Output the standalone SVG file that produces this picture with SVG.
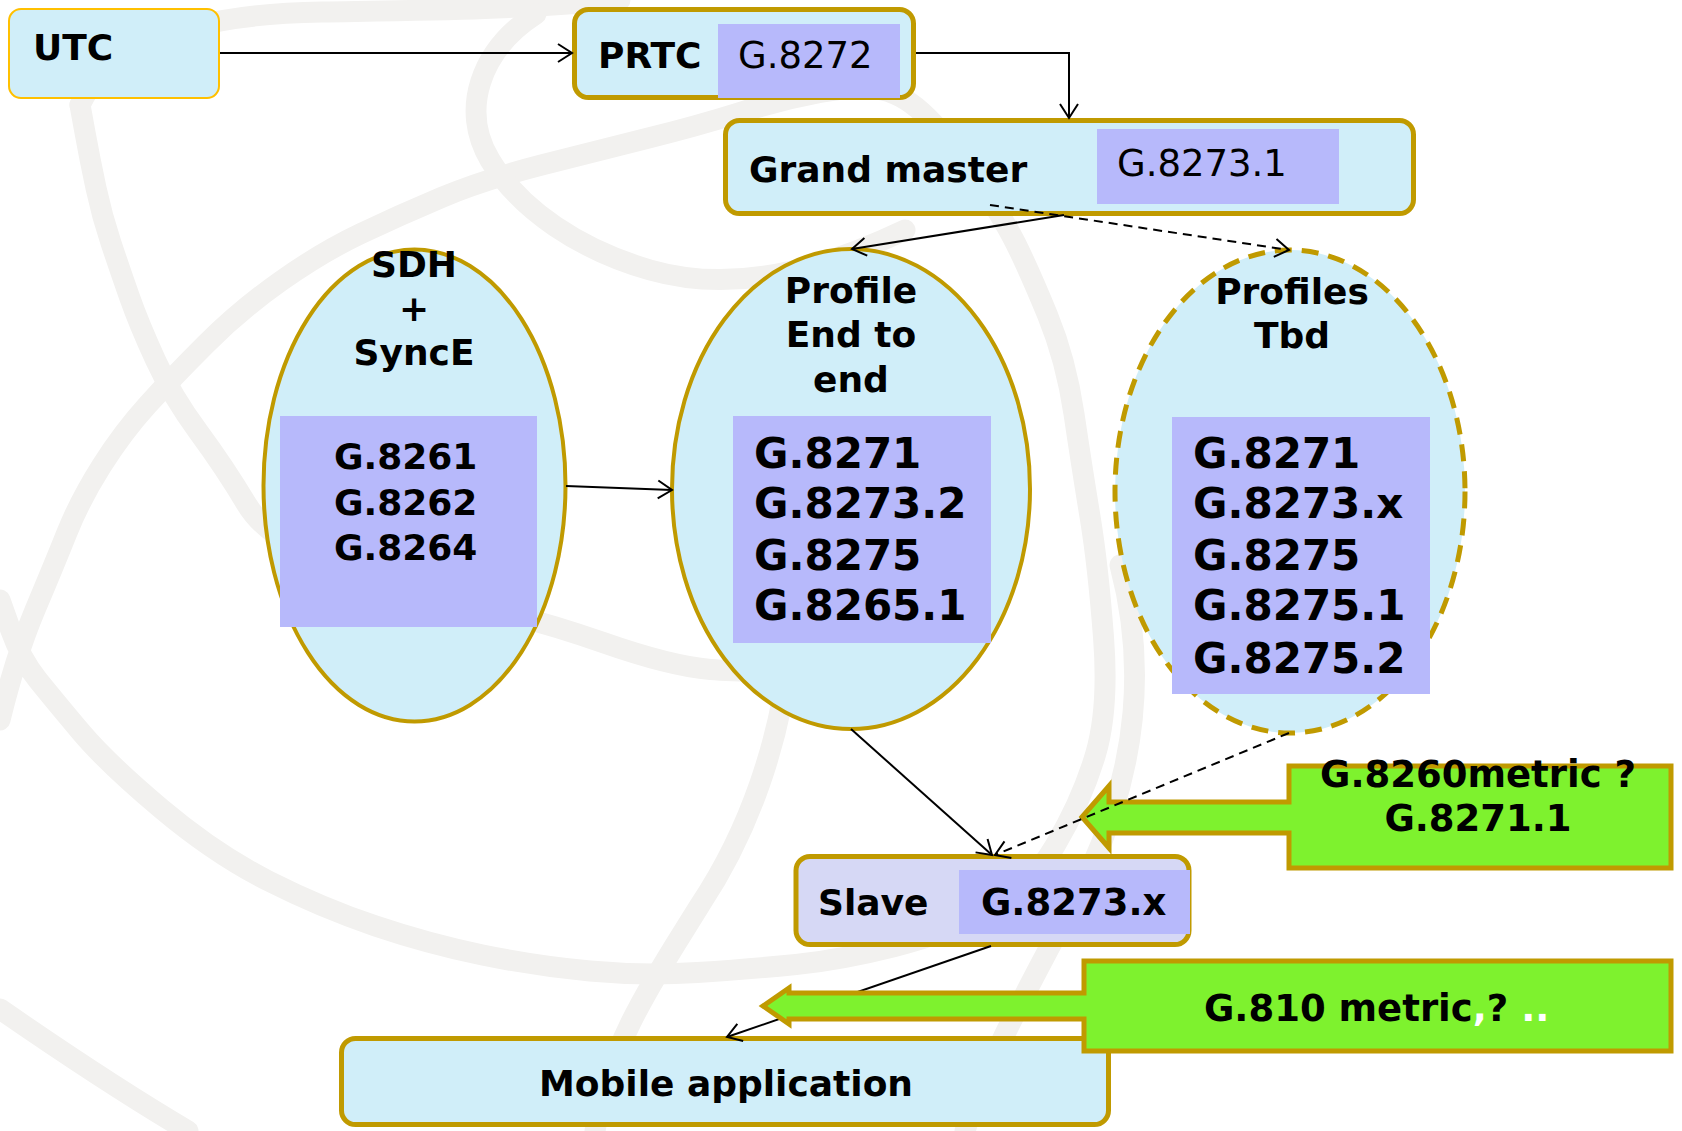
<svg xmlns="http://www.w3.org/2000/svg" width="1682" height="1131" viewBox="0 0 1682 1131">
<defs>
<style>
.bg{fill:none;stroke:#F2F1EF;stroke-width:21;stroke-linejoin:round;stroke-linecap:round}
.box{fill:#D0EEF9;stroke:#C09A00;stroke-width:5}
.pur{fill:#B7B9FB}
.t{font-family:"DejaVu Sans",Verdana,sans-serif;font-weight:bold;font-size:36px;fill:#000}
.n{font-weight:normal}
.big{font-size:42px}
.c{text-anchor:middle}
.con{fill:none;stroke:#000;stroke-width:2}
.dash{stroke-dasharray:9,6}
.green{fill:#7EF22E;stroke:#C09A00;stroke-width:5}
</style>
<marker id="arr" markerUnits="userSpaceOnUse" markerWidth="24" markerHeight="24" viewBox="-16 -12 20 24" refX="0" refY="0" orient="auto">
<path d="M-14,-9 L0,0 L-14,9" fill="none" stroke="#000" stroke-width="2"/>
</marker>
</defs>
<rect width="1682" height="1131" fill="#fff"/>
<g id="background">
<path class="bg" d="M0,600 L10.5,629.5 Q21,659 37.5,679.5 Q54,700 80.5,731.5 Q107,763 161,808.5 Q215,854 268.5,881 Q322,908 375.5,926 Q429,944 482.5,955 Q536,966 590,971 Q644,976 697.5,972.5 Q751,969 796,964.5 Q841,960 894.5,946.5 Q948,933 988.5,911.5 Q1029,890 1055.5,845 Q1082,800 1095.5,754.5 Q1109,709 1103.5,637 Q1098,565 1090,516.5 Q1082,468 1074,414 Q1066,360 1047.5,315 Q1029,270 1015.5,243 Q1002,216 976,178 Q950,140 927.5,117.5 Q905,95 882.5,90 Q860,85 820,92.5 Q780,100 738.5,113 Q697,126 648.5,138 Q600,150 541.5,165 Q483,180 441.5,197.5 Q400,215 361,233.5 Q322,252 281,281 Q240,310 206,344 Q172,378 147.5,405 Q123,432 101.5,466 Q80,500 67,532.5 Q54,565 35,610 Q16,655 0,720"/>
<path class="bg" d="M80,105 L85,132.5 Q90,160 96,188 Q102,216 111,243 Q120,270 129.5,297 Q139,324 155.5,360 Q172,396 198.5,432 Q225,468 246.5,504 Q268,540 334,565 Q400,590 468,604.5 Q536,619 603,642.5 Q670,666 710.5,669.5 Q751,673 900,670"/>
<path class="bg" d="M80,105 C110,40 200,14 322,12 S500,10 620,0"/>
<path class="bg" d="M536,14 C480,50 460,110 490,160 C520,210 580,250 650,270 C720,290 800,280 905,230"/>
<path class="bg" d="M790,650 C780,740 750,830 700,905 C660,970 610,1040 595,1131"/>
<path class="bg" d="M1120,565 C1145,660 1140,760 1090,870 C1050,950 990,1050 965,1131"/>
<path class="bg" d="M0,1009 Q110,1085 188,1131"/>
</g>
<g id="utc">
<rect x="9" y="9" width="210" height="89" rx="12" fill="#D0EEF9" stroke="#FFC000" stroke-width="2"/>
<text class="t" x="33" y="60">UTC</text>
</g>
<g id="prtc">
<rect class="box" x="574.5" y="9.5" width="339" height="88" rx="14"/>
<rect class="pur" x="718" y="24" width="182" height="74"/>
<text class="t" x="598" y="68">PRTC</text>
<text class="t n" x="738" y="68" style="font-size:37px">G.8272</text>
</g>
<g id="grandmaster">
<rect class="box" x="725.5" y="120.5" width="688" height="93" rx="14"/>
<rect class="pur" x="1097" y="129" width="242" height="75"/>
<text class="t" x="749" y="182">Grand master</text>
<text class="t n" x="1117" y="176" style="font-size:37px">G.8273.1</text>
</g>
<g id="sdh">
<ellipse cx="414.5" cy="485.5" rx="151" ry="236" fill="#D0EEF9" stroke="#C09A00" stroke-width="4"/>
<rect class="pur" x="280" y="416" width="257" height="211"/>
<text class="t c" x="414" y="277">SDH</text>
<text class="t c" x="414" y="321">+</text>
<text class="t c" x="414" y="365">SyncE</text>
<text class="t" x="334" y="469">G.8261</text>
<text class="t" x="334" y="515">G.8262</text>
<text class="t" x="334" y="560">G.8264</text>
</g>
<g id="profile">
<ellipse cx="851" cy="489" rx="179" ry="240" fill="#D0EEF9" stroke="#C09A00" stroke-width="4"/>
<rect class="pur" x="733" y="416" width="258" height="227"/>
<text class="t c" x="851" y="303">Profile</text>
<text class="t c" x="851" y="347">End to</text>
<text class="t c" x="851" y="392">end</text>
<text class="t big" x="754" y="468">G.8271</text>
<text class="t big" x="754" y="518">G.8273.2</text>
<text class="t big" x="754" y="570">G.8275</text>
<text class="t big" x="754" y="620">G.8265.1</text>
</g>
<g id="profiles-tbd">
<ellipse cx="1290" cy="491.5" rx="175" ry="241.5" fill="#D0EEF9" stroke="#C09A00" stroke-width="5" stroke-dasharray="17,10"/>
<rect class="pur" x="1172" y="417" width="258" height="277"/>
<text class="t c" x="1292" y="304">Profiles</text>
<text class="t c" x="1292" y="348">Tbd</text>
<text class="t big" x="1193" y="468">G.8271</text>
<text class="t big" x="1193" y="518">G.8273.x</text>
<text class="t big" x="1193" y="570">G.8275</text>
<text class="t big" x="1193" y="620">G.8275.1</text>
<text class="t big" x="1193" y="673">G.8275.2</text>
</g>
<g id="slave">
<rect x="796" y="856.5" width="393" height="88" rx="14" fill="#D6D8F5" stroke="#C09A00" stroke-width="5"/>
<rect class="pur" x="959" y="870" width="231" height="64"/>
<text class="t" x="818" y="915">Slave</text>
<text class="t" x="981" y="915" style="font-size:37px">G.8273.x</text>
</g>
<g id="mobile">
<rect class="box" x="341.5" y="1038.5" width="767" height="86" rx="14"/>
<text class="t c" x="726" y="1096">Mobile application</text>
</g>
<g id="callout-g8260">
<polygon class="green" points="1289,766 1671,766 1671,868 1289,868 1289,833 1109,833 1109,848 1082,817 1109,786 1109,802 1289,802"/>
<text class="t c" x="1478" y="787" style="font-size:37px">G.8260metric ?</text>
<text class="t c" x="1478" y="831" style="font-size:37px">G.8271.1</text>
</g>
<g id="connectors">
<path class="con" d="M220,53 L572,53" marker-end="url(#arr)"/>
<path class="con" d="M916,53 H1069 V118" marker-end="url(#arr)"/>
<path class="con" d="M1064,215 L852,249" marker-end="url(#arr)"/>
<path class="con dash" d="M990,205 L1289,250" marker-end="url(#arr)"/>
<path class="con" d="M566,486 L672,490" marker-end="url(#arr)"/>
<path class="con" d="M851,729 L992,855" marker-end="url(#arr)"/>
<path class="con dash" d="M1289,733 L995,855" marker-end="url(#arr)"/>
<path class="con" d="M991,946 L727,1037" marker-end="url(#arr)"/>
</g>
<g id="callout-g810">
<polygon class="green" points="1084,961 1671,961 1671,1051 1084,1051 1084,1019 789,1019 789,1024 763,1006 789,988 789,993 1084,993"/>
<text class="t" x="1204" y="1021" style="font-size:37px">G.810 metric<tspan fill="#fff">,</tspan>? <tspan fill="#fff">..</tspan></text>
</g>
</svg>
